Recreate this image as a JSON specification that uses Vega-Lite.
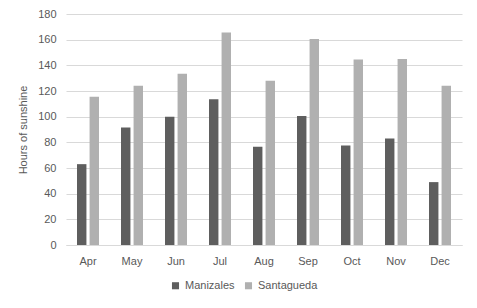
{
  "$schema": "https://vega.github.io/schema/vega-lite/v6.json",
  "width": 396,
  "height": 231,
  "autosize": "none",
  "padding": {"left": 66, "top": 14, "right": 15, "bottom": 63},
  "background": "white",
  "data": {"values": [
    {"month": "Apr", "site": "Manizales", "hours": 63},
    {"month": "Apr", "site": "Santagueda", "hours": 115.5},
    {"month": "May", "site": "Manizales", "hours": 91.5},
    {"month": "May", "site": "Santagueda", "hours": 124},
    {"month": "Jun", "site": "Manizales", "hours": 100},
    {"month": "Jun", "site": "Santagueda", "hours": 133.5},
    {"month": "Jul", "site": "Manizales", "hours": 113.5},
    {"month": "Jul", "site": "Santagueda", "hours": 165.5},
    {"month": "Aug", "site": "Manizales", "hours": 76.5},
    {"month": "Aug", "site": "Santagueda", "hours": 128},
    {"month": "Sep", "site": "Manizales", "hours": 100.5},
    {"month": "Sep", "site": "Santagueda", "hours": 160.5},
    {"month": "Oct", "site": "Manizales", "hours": 77.5},
    {"month": "Oct", "site": "Santagueda", "hours": 144.5},
    {"month": "Nov", "site": "Manizales", "hours": 83},
    {"month": "Nov", "site": "Santagueda", "hours": 145},
    {"month": "Dec", "site": "Manizales", "hours": 49},
    {"month": "Dec", "site": "Santagueda", "hours": 124}
  ]},
  "mark": {"type": "bar"},
  "encoding": {
    "x": {
      "field": "month", "type": "nominal", "sort": null,
      "scale": {"paddingInner": 0.5, "paddingOuter": 0.25},
      "axis": {"title": null, "labelAngle": 0, "ticks": false, "domainColor": "#d9d9d9", "labelColor": "#595959", "labelFont": "Liberation Sans", "labelFontSize": 11, "labelPadding": 10}
    },
    "xOffset": {"field": "site", "type": "nominal", "scale": {"paddingInner": 0.25}},
    "y": {
      "field": "hours", "type": "quantitative",
      "scale": {"domain": [0, 180], "nice": false},
      "axis": {"title": "Hours of sunshine", "values": [0,20,40,60,80,100,120,140,160,180], "ticks": false, "domain": false, "gridColor": "#d9d9d9", "labelColor": "#595959", "labelFont": "Liberation Sans", "labelFontSize": 11, "labelPadding": 10, "titleColor": "#595959", "titleFont": "Liberation Sans", "titleFontSize": 11, "titleFontWeight": "normal", "titlePadding": 9}
    },
    "color": {
      "field": "site", "type": "nominal",
      "scale": {"domain": ["Manizales", "Santagueda"], "range": ["#5e5e5e", "#b0b0b0"]},
      "legend": {"title": null, "orient": "none", "legendX": 104, "legendY": 266, "direction": "horizontal", "symbolType": "square", "symbolSize": 50, "labelColor": "#595959", "labelFont": "Liberation Sans", "labelFontSize": 11, "columnPadding": 8}
    }
  },
  "config": {"view": {"stroke": null}}
}
